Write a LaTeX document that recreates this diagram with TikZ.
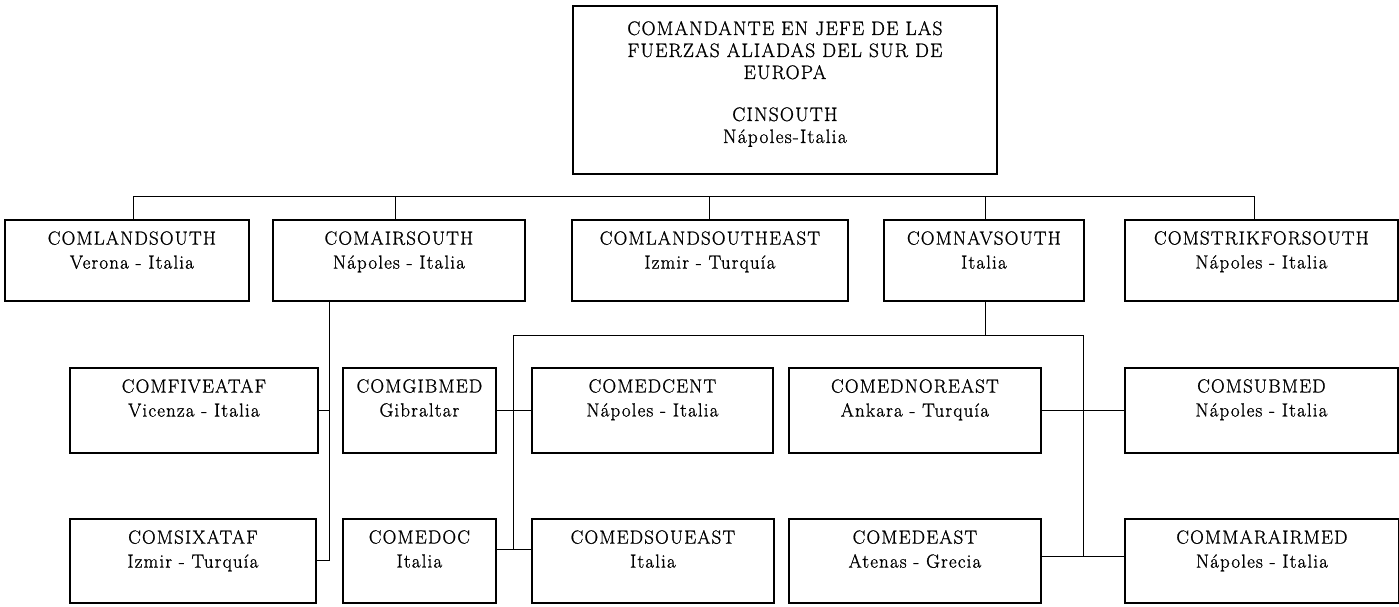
\documentclass[tikz,border=0pt]{standalone}
\usepackage{fontspec}
\setmainfont{Latin Modern Roman}[LetterSpace=6, FakeBold=1]
\tikzset{
  box/.style={draw, line width=1.8pt, inner sep=0pt, anchor=north west},
  txt/.style={anchor=north, align=center, inner sep=0pt, font=\fontsize{19}{24}\selectfont},
  toptxt/.style={anchor=north, align=center, inner sep=0pt, font=\fontsize{19.5}{22}\selectfont},
  conn/.style={line width=0.9pt},
}
\begin{document}
\begin{tikzpicture}[x=1pt,y=-1pt]
\useasboundingbox (0,0) rectangle (1399,606);
% top box
\node[box, minimum width=424pt, minimum height=168pt] (top) at (572,5) {};
\node[toptxt] (toptext) at ([yshift=-16pt]top.north) {COMANDANTE EN JEFE DE LAS\\FUERZAS ALIADAS DEL SUR DE\\EUROPA\\[20pt]CINSOUTH\\Nápoles-Italia};
% row 1
\node[box, minimum width=244pt, minimum height=81pt] (ls) at (4,219) {};
\node[box, minimum width=252pt, minimum height=81pt] (as) at (272,219) {};
\node[box, minimum width=276pt, minimum height=81pt] (lse) at (571,219) {};
\node[box, minimum width=200pt, minimum height=81pt] (ns) at (883,219) {};
\node[box, minimum width=273pt, minimum height=81pt] (ss) at (1124,219) {};
\node[txt] (lst) at ([yshift=-12pt,xshift=5pt]ls.north) {COMLANDSOUTH\\Verona - Italia};
\node[txt] (ast) at ([yshift=-12pt]as.north) {COMAIRSOUTH\\Nápoles - Italia};
\node[txt] (lset) at ([yshift=-12pt]lse.north) {COMLANDSOUTHEAST\\Izmir - Turquía};
\node[txt] (nst) at ([yshift=-12pt]ns.north) {COMNAVSOUTH\\Italia};
\node[txt] (sst) at ([yshift=-12pt]ss.north) {COMSTRIKFORSOUTH\\Nápoles - Italia};
% row 2
\node[box, minimum width=248pt, minimum height=85pt] (five) at (69,367) {};
\node[box, minimum width=153pt, minimum height=85pt] (gib) at (342,367) {};
\node[box, minimum width=241pt, minimum height=85pt] (cent) at (531,367) {};
\node[box, minimum width=252pt, minimum height=85pt] (nor) at (788,367) {};
\node[box, minimum width=273pt, minimum height=85pt] (sub) at (1124,367) {};
\node[txt] (fivet) at ([yshift=-12pt]five.north) {COMFIVEATAF\\Vicenza - Italia};
\node[txt] (gibt) at ([yshift=-12pt]gib.north) {COMGIBMED\\Gibraltar};
\node[txt] (centt) at ([yshift=-12pt]cent.north) {COMEDCENT\\Nápoles - Italia};
\node[txt] (nort) at ([yshift=-12pt]nor.north) {COMEDNOREAST\\Ankara - Turquía};
\node[txt] (subt) at ([yshift=-12pt]sub.north) {COMSUBMED\\Nápoles - Italia};
% row 3
\node[box, minimum width=246pt, minimum height=84pt] (six) at (69,518) {};
\node[box, minimum width=153pt, minimum height=84pt] (doc) at (342,518) {};
\node[box, minimum width=242pt, minimum height=84pt] (sou) at (531,518) {};
\node[box, minimum width=252pt, minimum height=84pt] (east) at (788,518) {};
\node[box, minimum width=274pt, minimum height=84pt] (mar) at (1124,518) {};
\node[txt] (sixt) at ([yshift=-12pt]six.north) {COMSIXATAF\\Izmir - Turquía};
\node[txt] (doct) at ([yshift=-12pt]doc.north) {COMEDOC\\Italia};
\node[txt] (sout) at ([yshift=-12pt]sou.north) {COMEDSOUEAST\\Italia};
\node[txt] (eastt) at ([yshift=-12pt]east.north) {COMEDEAST\\Atenas - Grecia};
\node[txt] (mart) at ([yshift=-12pt]mar.north) {COMMARAIRMED\\Nápoles - Italia};
% connectors: main bus
\coordinate (busL) at (133,196);
\coordinate (busR) at (1254,196);
\draw[conn] (busL |- ls.north) -- (busL) -- (busR) -- (busR |- ss.north);
\draw[conn] ([xshift=-3pt]as.north) -- ([xshift=-3pt]as.north |- busL);
\draw[conn] (lse.north) -- (lse.north |- busL);
\draw[conn] ([xshift=2pt]ns.north) -- ([xshift=2pt]ns.north |- busL);
% COMAIRSOUTH branch
\coordinate (airv) at (329,300);
\draw[conn] (airv) -- (airv |- six.east) -- (six.east);
\draw[conn] (five.east) -- (five.east -| airv);
% COMNAVSOUTH branch
\coordinate (lv) at (513,335);
\coordinate (rv) at (1083,335);
\draw[conn] ([xshift=2pt]ns.south) -- ([xshift=2pt]ns.south |- lv);
\draw[conn] ([yshift=11pt]doc.east -| lv) -- (lv) -- (rv) -- ([yshift=4pt]east.east -| rv);
\draw[conn] (gib.east) -- (cent.west);
\draw[conn] ([yshift=11pt]doc.east) -- ([yshift=11pt]sou.west);
\draw[conn] (nor.east) -- (sub.west);
\draw[conn] ([yshift=4pt]east.east) -- ([yshift=4pt]mar.west);
\end{tikzpicture}
\end{document}
